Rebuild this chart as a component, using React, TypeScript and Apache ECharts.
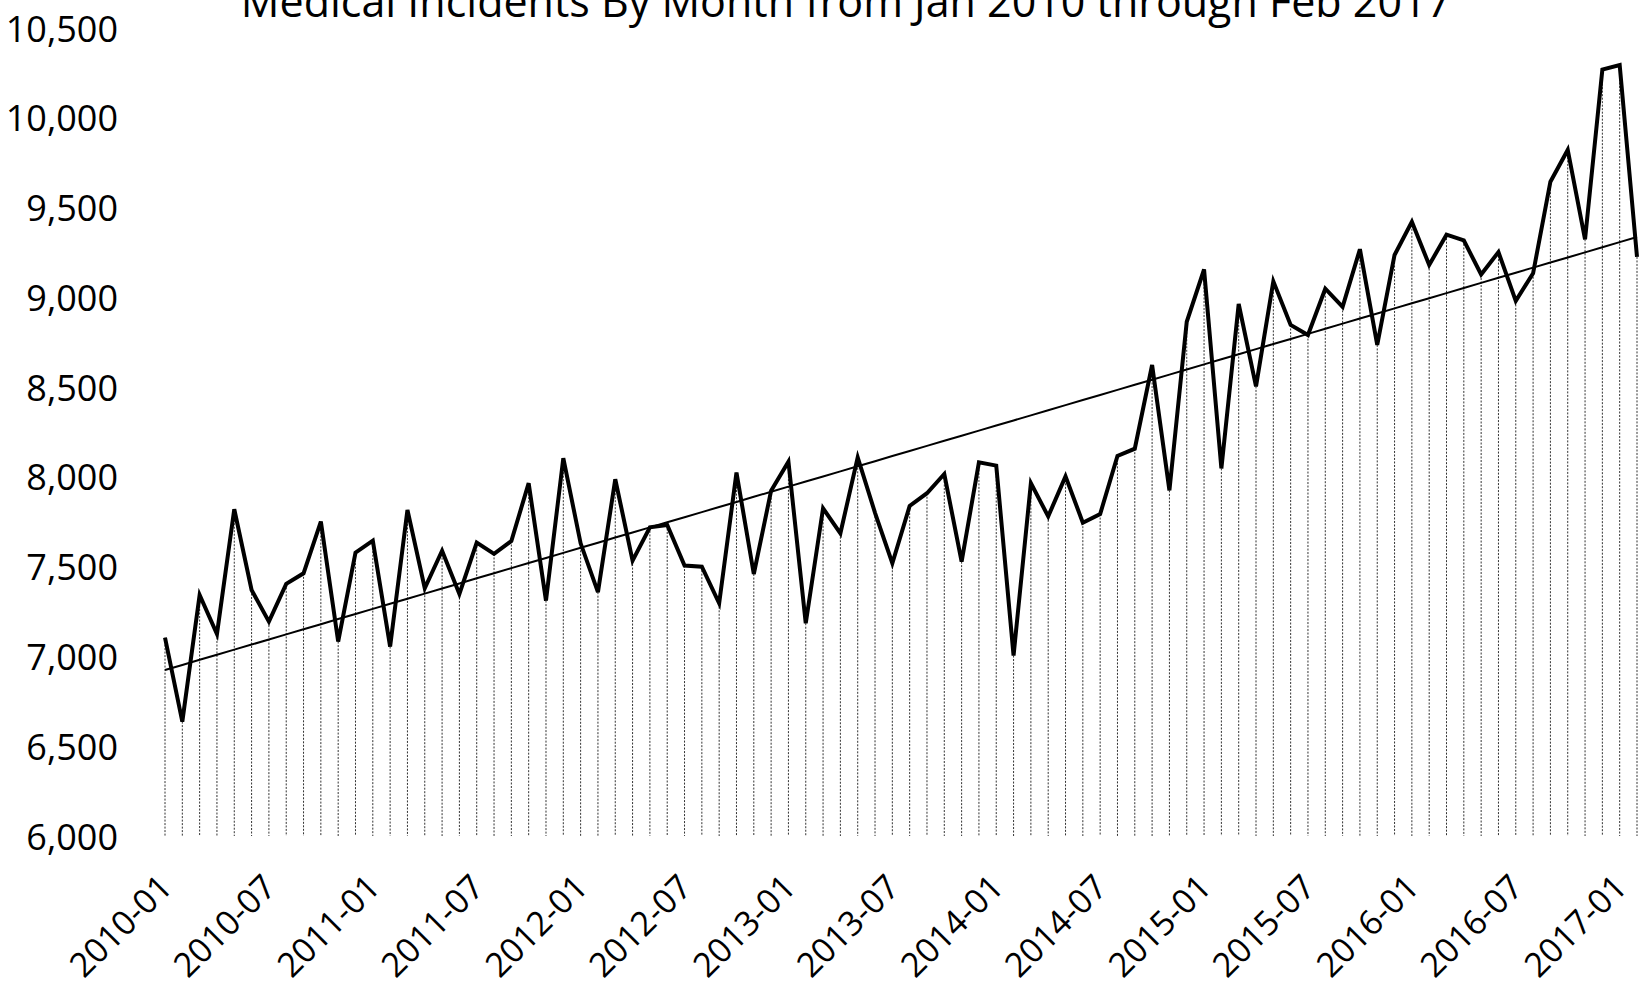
import React, { useEffect, useRef } from "react";
import * as echarts from "echarts";

const FONT = "'Open Sans', 'Noto Sans', sans-serif";

const chartTitle = "Medical Incidents By Month from Jan 2010 through Feb 2017";

const months = [
  "2010-01", "2010-02", "2010-03", "2010-04", "2010-05", "2010-06", "2010-07", "2010-08", "2010-09", "2010-10", "2010-11", "2010-12",
  "2011-01", "2011-02", "2011-03", "2011-04", "2011-05", "2011-06", "2011-07", "2011-08", "2011-09", "2011-10", "2011-11", "2011-12",
  "2012-01", "2012-02", "2012-03", "2012-04", "2012-05", "2012-06", "2012-07", "2012-08", "2012-09", "2012-10", "2012-11", "2012-12",
  "2013-01", "2013-02", "2013-03", "2013-04", "2013-05", "2013-06", "2013-07", "2013-08", "2013-09", "2013-10", "2013-11", "2013-12",
  "2014-01", "2014-02", "2014-03", "2014-04", "2014-05", "2014-06", "2014-07", "2014-08", "2014-09", "2014-10", "2014-11", "2014-12",
  "2015-01", "2015-02", "2015-03", "2015-04", "2015-05", "2015-06", "2015-07", "2015-08", "2015-09", "2015-10", "2015-11", "2015-12",
  "2016-01", "2016-02", "2016-03", "2016-04", "2016-05", "2016-06", "2016-07", "2016-08", "2016-09", "2016-10", "2016-11", "2016-12",
  "2017-01", "2017-02",
];

const incidents = [
  7105, 6637, 7342, 7125, 7820, 7370, 7194, 7404, 7463, 7751, 7083, 7578,
  7645, 7055, 7816, 7380, 7589, 7348, 7634, 7571, 7643, 7965, 7311, 8104,
  7630, 7358, 7987, 7534, 7719, 7732, 7506, 7500, 7296, 8024, 7459, 7923,
  8085, 7185, 7825, 7686, 8109, 7800, 7519, 7838, 7909, 8016, 7528, 8081,
  8063, 7005, 7965, 7780, 8003, 7745, 7793, 8117, 8157, 8623, 7925, 8864,
  9155, 8047, 8963, 8504, 9089, 8846, 8790, 9048, 8947, 9268, 8735, 9236,
  9421, 9180, 9349, 9317, 9127, 9252, 8980, 9134, 9644, 9821, 9323, 10268,
  10294, 9225,
];

const yMin = 6000;
const yMax = 10500;
const yStep = 500;

function linearTrend(values: number[]): number[] {
  const n = values.length;
  let sx = 0, sy = 0, sxx = 0, sxy = 0;
  values.forEach((v, i) => {
    sx += i; sy += v; sxx += i * i; sxy += i * v;
  });
  const b = (n * sxy - sx * sy) / (n * sxx - sx * sx);
  const a = (sy - b * sx) / n;
  return values.map((_, i) => a + b * i);
}

function withCommas(v: number): string {
  return String(Math.round(v)).replace(/\B(?=(\d{3})+(?!\d))/g, ",");
}

export default function App() {
  const ref = useRef<HTMLDivElement>(null);

  useEffect(() => {
    document.body.style.margin = "0";
    const chart = echarts.init(ref.current!, null, { renderer: "svg" });
    const trend = linearTrend(incidents);

    chart.setOption({
      animation: false,
      backgroundColor: "#ffffff",
      textStyle: { fontFamily: FONT },
      grid: { left: 165, right: 11, top: 28, bottom: 153, containLabel: false },
      xAxis: {
        type: "category",
        data: months,
        boundaryGap: false,
        axisLine: { show: false },
        axisTick: { show: false },
        splitLine: { show: false },
        axisLabel: {
          interval: 5,
          rotate: 45,
          fontSize: 34,
          color: "#000",
          margin: 44,
          fontFamily: FONT,
        },
      },
      yAxis: {
        type: "value",
        min: yMin,
        max: yMax,
        interval: yStep,
        axisLine: { show: false },
        axisTick: { show: false },
        splitLine: { show: false },
        axisLabel: {
          fontSize: 36,
          color: "#000",
          margin: 47,
          fontFamily: FONT,
          formatter: (v: number) => withCommas(v),
        },
      },
      series: [
        {
          type: "custom",
          z: 1,
          silent: true,
          data: incidents.map((v, i) => [i, v]),
          renderItem: (_params: any, api: any) => {
            const top = api.coord([api.value(0), api.value(1)]);
            const bottom = api.coord([api.value(0), yMin]);
            return {
              type: "line",
              shape: { x1: top[0], y1: top[1], x2: bottom[0], y2: bottom[1] },
              style: { stroke: "#333", lineWidth: 1, lineDash: [2, 1.5] },
            };
          },
        },
        {
          type: "line",
          z: 2,
          data: trend,
          symbol: "none",
          lineStyle: { color: "#000", width: 2 },
        },
        {
          type: "line",
          z: 3,
          data: incidents,
          symbol: "none",
          lineStyle: { color: "#000", width: 4, join: "miter" },
        },
      ],
      graphic: [
        {
          type: "text",
          x: 846,
          y: 0,
          style: {
            text: chartTitle,
            fontFamily: FONT,
            fontSize: 43,
            fill: "#000",
            textAlign: "center",
            textVerticalAlign: "middle",
          },
        },
      ],
    });

    return () => chart.dispose();
  }, []);

  return <div ref={ref} style={{ width: 1648, height: 989 }} />;
}
